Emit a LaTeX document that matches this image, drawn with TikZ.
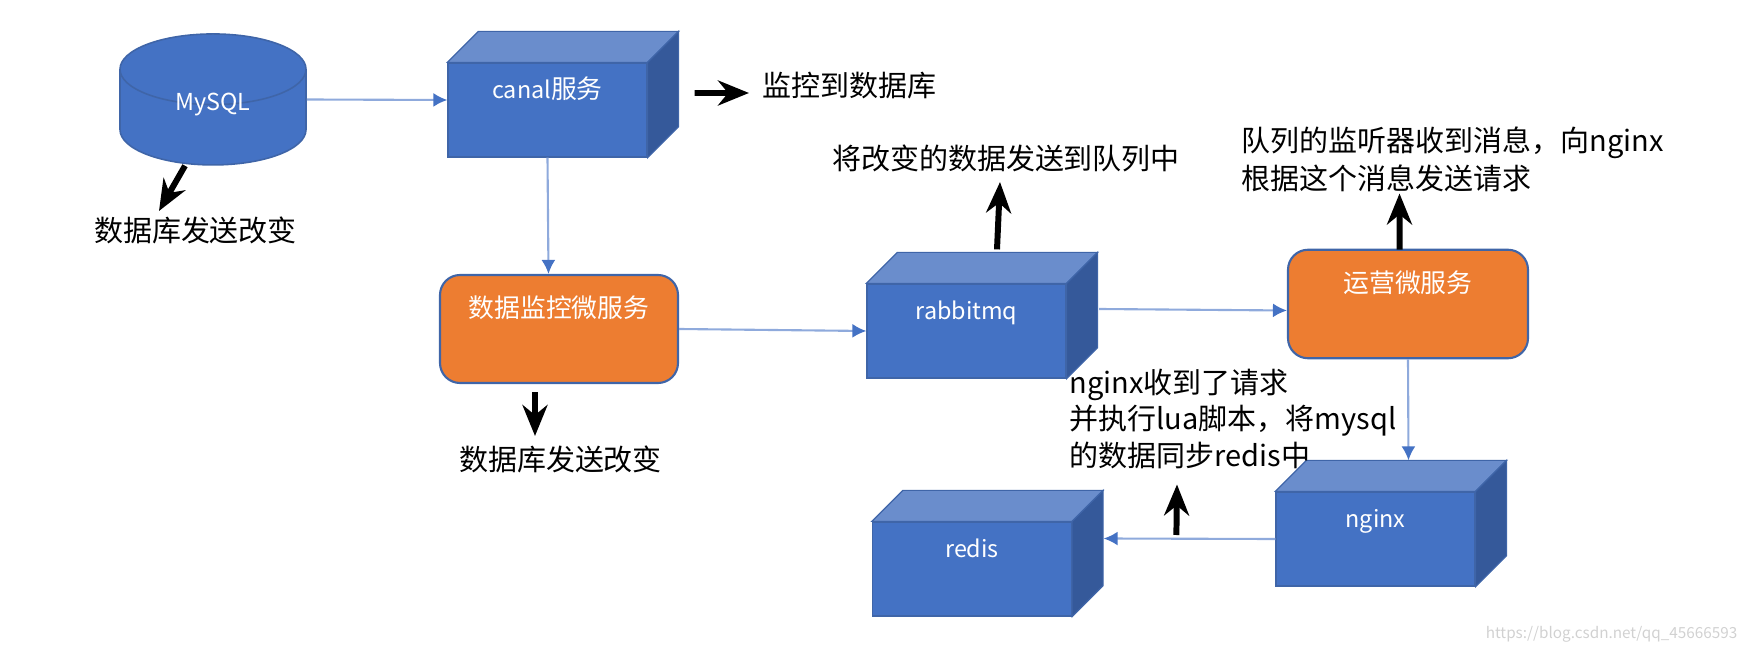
\documentclass[tikz,border=0pt]{standalone}
\usepackage{fontspec}
\setmainfont{Noto Sans CJK SC}
\usetikzlibrary{shapes.geometric,arrows.meta,calc}
\definecolor{fillBL}{HTML}{4472C4}
\definecolor{topBL}{HTML}{6A8DCC}
\definecolor{sideBL}{HTML}{35599A}
\definecolor{edgeBL}{HTML}{3F65A8}
\definecolor{fillOR}{HTML}{ED7D31}
\definecolor{lineBL}{HTML}{8FAADC}
\newcommand{\latinBL}{\fontsize{13.3}{17}\selectfont}
\tikzstyle{cubeBL} = [rectangle, draw=edgeBL, fill=fillBL, line width=0.7pt, minimum width=3.98cm, minimum height=1.88cm, text=white, font=\fontsize{14.7}{17}\selectfont, text height=12pt, text depth=25pt, inner sep=0pt]
\tikzstyle{blockOR} = [rectangle, draw=edgeBL, fill=fillOR, line width=1.2pt, rounded corners=0.4cm, text=white, font=\fontsize{14.7}{17}\selectfont, text height=12pt, text depth=25pt, inner sep=0pt]
\tikzstyle{dbBL} = [cylinder, shape border rotate=90, aspect=0.94, draw=edgeBL, fill=fillBL, line width=0.9pt, minimum width=3.72cm, minimum height=2.62cm, text=white, font=\fontsize{14.7}{17}\selectfont, inner sep=0pt]
\tikzstyle{labelBK} = [text=black, align=left, inner sep=0pt, font=\fontsize{16.5}{21.5}\selectfont]
\tikzstyle{line} = [draw=lineBL, line width=1.2pt, -{Latex[length=0.28cm,width=0.28cm,fill=fillBL,color=fillBL]}]
\tikzstyle{arrowBK} = [draw=black, line width=3.4pt, -{Stealth[length=0.62cm,width=0.5cm]}]

\begin{document}
\begin{tikzpicture}
    \useasboundingbox (0,0) rectangle (34.86,-13.06);

    % nodes
    \node [dbBL] (mysql) at (4.26,-2.35) {\latinBL\smash{\raisebox{3.7pt}{MySQL}}};
    \node [cubeBL, right of = mysql, node distance = 6.69cm, yshift=0.15cm] (canal) {{\latinBL canal}服务};
    \node [blockOR, below of = canal, node distance = 4.38cm, xshift=0.23cm, minimum width=4.76cm, minimum height=2.16cm] (monitor) {数据监控微服务};
    \node [cubeBL, right of = monitor, node distance = 8.15cm, yshift=-0.04cm] (rabbitmq) {\latinBL rabbitmq};
    \node [blockOR, right of = rabbitmq, node distance = 8.83cm, yshift=0.54cm, minimum width=4.8cm, minimum height=2.17cm] (operate) {运营微服务};
    \node [cubeBL, below of = operate, node distance = 4.7cm, xshift=-0.65cm] (nginx) {\latinBL nginx};
    \node [cubeBL, left of = nginx, node distance = 8.07cm, yshift=-0.6cm] (redis) {\latinBL redis};

    % cube faces
    \foreach \cube in {canal,rabbitmq,nginx,redis} {
      \draw [edgeBL, fill=topBL, line width=0.7pt] (\cube.north west) -- ++(0.62,0.62) -- ($(\cube.north east)+(0.62,0.62)$) -- (\cube.north east) -- cycle;
      \draw [edgeBL, fill=sideBL, line width=0.7pt] (\cube.north east) -- ++(0.62,0.62) -- ($(\cube.south east)+(0.62,0.62)$) -- (\cube.south east) -- cycle;
    }

    % labels
    \node [labelBK, below of = mysql, node distance = 2.25cm, xshift=-0.35cm] (lbl_mysql) {数据库发送改变};
    \node [labelBK, right of = canal, node distance = 6.04cm, yshift=0.48cm] (lbl_canal) {监控到数据库};
    \node [labelBK, below of = monitor, node distance = 2.6cm, xshift=0.03cm] (lbl_monitor) {数据库发送改变};
    \node [labelBK, above of = rabbitmq, node distance = 3.46cm, xshift=0.79cm] (lbl_rabbitmq) {将改变的数据发送到队列中};
    \node [labelBK, above of = operate, node distance = 2.89cm, xshift=0.9cm] (lbl_operate) {队列的监听器收到消息，向nginx\\根据这个消息发送请求};
    \node [labelBK, above of = nginx, node distance = 2.4cm, xshift=-2.85cm, font=\fontsize{16.5}{21}\selectfont] (lbl_nginx) {nginx收到了请求\\并执行lua脚本，将mysql\\的数据同步redis中};
    \node [below of = nginx, node distance = 1.9cm, xshift=4.72cm, text=black!18, inner sep=0pt, font=\fontsize{8.7}{10}\selectfont] (mark) {https://blog.csdn.net/qq\_45666593};

    % edges
    \path [line] ($(mysql.east)+(0,0.36)$) -- ($(canal.west)+(0,0.2)$);
    \path [line] (canal.south) -- ($(monitor.north)+(-0.21,0)$);
    \path [line] (monitor.east) -- (rabbitmq.west);
    \path [line] ($(rabbitmq.east)+(0.65,0.44)$) -- ($(operate.west)+(0,-0.13)$);
    \path [line] (operate.south) -- ($(nginx.north)+(0.66,0.62)$);
    \path [line] (nginx.west) -- ($(redis.east)+(0.63,0.61)$);

    % black arrows
    \path [arrowBK] ($(mysql.south)+(-0.56,0)$) -- ($(lbl_mysql.center)+(-0.73,0.38)$);
    \path [arrowBK] ($(canal.east)+(0.94,0.34)$) -- ($(lbl_canal.center)+(-2.01,-0.14)$);
    \path [arrowBK] ($(monitor.south)+(-0.48,-0.16)$) -- ($(lbl_monitor.center)+(-0.51,0.46)$);
    \path [arrowBK] ($(rabbitmq.north)+(0.61,0.68)$) -- ($(lbl_rabbitmq.center)+(-0.12,-0.48)$);
    \path [arrowBK] ($(operate.north)+(-0.17,-0.02)$) -- ($(lbl_operate.center)+(-1.07,-0.68)$);
    \path [arrowBK] ($(nginx.west)+(-1.98,0.08)$) -- ($(lbl_nginx.center)+(-1.12,-1.31)$);
\end{tikzpicture}
\end{document}
